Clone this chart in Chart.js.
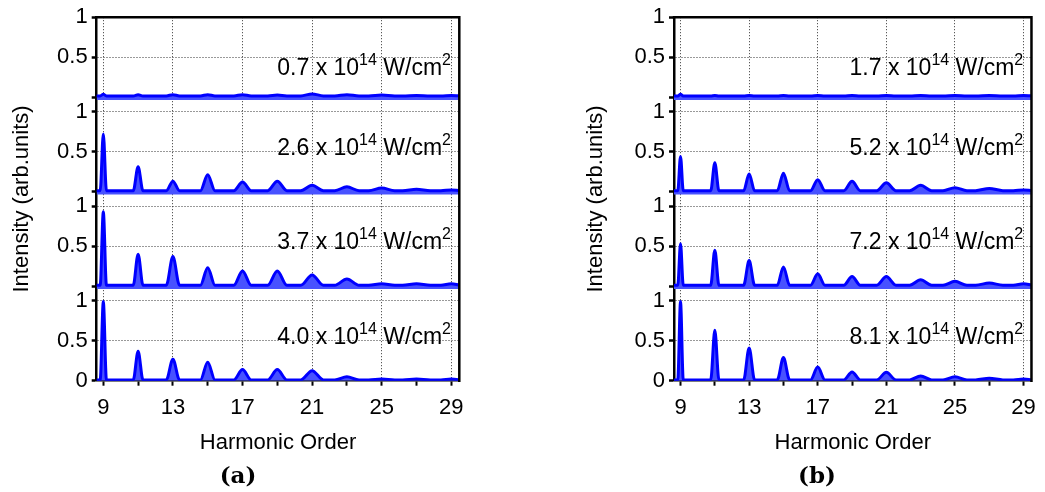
<!DOCTYPE html>
<html>
<head>
<meta charset="utf-8">
<title>Harmonic spectra</title>
<script src="https://cdn.jsdelivr.net/npm/chart.js@4.4.1/dist/chart.umd.min.js"></script>
<style>
  html, body { margin: 0; padding: 0; background: #fff; }
  body { width: 1045px; height: 492px; position: relative; overflow: hidden; }
  canvas { position: absolute; top: 0; }
  #specA { left: 0; }
  #specB { left: 574px; }
</style>
</head>
<body>
<canvas id="specA" width="522" height="492"></canvas>
<canvas id="specB" width="471" height="492"></canvas>
<script>
// --- data ---
// odd harmonic orders carrying a peak
const orders = [9, 11, 13, 15, 17, 19, 21, 23, 25, 27, 29];
const xTicks = [9, 11, 13, 15, 17, 19, 21, 23, 25, 27, 29];
const xLabelled = [9, 13, 17, 21, 25, 29];

// laser intensities (x 10^14 W/cm^2), top panel first
const intensitiesA = ['0.7', '2.6', '3.7', '4.0'];
const intensitiesB = ['1.7', '5.2', '7.2', '8.1'];

// peak heights (arb. units) at each order in `orders`
const peaksA07 = [0.035, 0.03, 0.03, 0.03, 0.03, 0.025, 0.04, 0.03, 0.025, 0.02, 0.02];
const peaksA26 = [0.72, 0.31, 0.13, 0.21, 0.12, 0.13, 0.08, 0.06, 0.045, 0.03, 0.02];
const peaksA37 = [0.93, 0.40, 0.37, 0.23, 0.19, 0.19, 0.14, 0.09, 0.03, 0.03, 0.03];
const peaksA40 = [0.99, 0.37, 0.27, 0.23, 0.14, 0.14, 0.125, 0.05, 0.02, 0.02, 0.02];

const peaksB17 = [0.035, 0.02, 0.02, 0.02, 0.02, 0.02, 0.02, 0.02, 0.02, 0.02, 0.02];
const peaksB52 = [0.44, 0.36, 0.22, 0.23, 0.15, 0.13, 0.11, 0.08, 0.05, 0.04, 0.02];
const peaksB72 = [0.53, 0.45, 0.32, 0.24, 0.155, 0.12, 0.12, 0.08, 0.06, 0.04, 0.03];
const peaksB81 = [0.99, 0.63, 0.41, 0.29, 0.17, 0.11, 0.105, 0.06, 0.05, 0.03, 0.02];

// half width of each peak at its foot (in harmonic orders)
const widthsA = [0.18, 0.28, 0.38, 0.42, 0.5, 0.55, 0.65, 0.7, 0.75, 0.8, 0.6];
const widthsB = [0.16, 0.24, 0.32, 0.36, 0.42, 0.48, 0.56, 0.64, 0.7, 0.8, 0.6];

// background level of each spectrum, top panel first
const baseA = [0.015, 0.012, 0.012, 0.01];
const baseB = [0.015, 0.012, 0.012, 0.01];

// --- layout of the four stacked panels on one value axis ---
const STEP = 1.1833;                       // distance between panel zeros
const offsets = [3 * STEP, 2 * STEP, STEP, 0];
const Y_MAX = 3 * STEP + 1;
const X_MIN = 8.62, X_MAX = 29.46;

const LINE = '#0000ff';
const FILL = 'rgb(72, 82, 255)';
const FONT = "'Liberation Sans', Arial, Helvetica, sans-serif";
const SIZE = 22;

// y ticks: 0 / 0.5 / 1 for every panel, only the bottom panel shows "0"
const yTickValues = [];
const yTickLabels = [];
offsets.slice().reverse().forEach((off, i) => {
    yTickValues.push(off, off + 0.5, off + 1);
    yTickLabels.push(i === 0 ? '0' : '', '0.5', '1');
});

// spectrum as a polyline: flat background with one bump per harmonic
const spectrum = (peaks, widths, base, offset) => {
    const pts = [{ x: 8.4, y: offset + base }];
    orders.forEach((h, i) => {
        const top = Math.max(peaks[i], base);
        pts.push({ x: h - widths[i], y: offset + base });
        pts.push({ x: h, y: offset + top });
        pts.push({ x: h + widths[i], y: offset + base });
    });
    pts.push({ x: 30, y: offset + base });
    return pts;
};

const buildDatasets = (series, widths, bases) => series.map((peaks, k) => ({
    data: spectrum(peaks, widths, bases[k], offsets[k]),
    borderColor: LINE,
    borderWidth: 3,
    backgroundColor: FILL,
    fill: { value: offsets[k] - 0.035 },
    pointRadius: 0,
    cubicInterpolationMode: 'monotone'
}));

// "2.6 x 10^14 W/cm^2" with raised exponents, right aligned at xr
const drawIntensity = (ctx, val, xr, yb) => {
    const parts = [
        { t: val + ' x 10', size: 23, rise: 0 },
        { t: '14', size: 16, rise: 10 },
        { t: ' W/cm', size: 23, rise: 0 },
        { t: '2', size: 16, rise: 10 }
    ];
    let total = 0;
    parts.forEach(p => {
        ctx.font = p.size + 'px ' + FONT;
        p.w = ctx.measureText(p.t).width;
        total += p.w;
    });
    let x = xr - total;
    ctx.textAlign = 'left';
    ctx.textBaseline = 'alphabetic';
    ctx.fillStyle = '#000';
    parts.forEach(p => {
        ctx.font = p.size + 'px ' + FONT;
        ctx.fillText(p.t, x, yb - p.rise);
        x += p.w;
    });
};

// top/right frame, intensity labels and the panel letter
const framePlugin = {
    id: 'frame',
    afterDraw(chart, args, opts) {
        const { ctx, chartArea: { left, right, top, bottom }, scales: { x, y } } = chart;
        ctx.save();
        ctx.strokeStyle = '#000';
        ctx.lineWidth = 2.5;
        ctx.beginPath();
        ctx.moveTo(left - 1.25, top);
        ctx.lineTo(right, top);
        ctx.lineTo(right, bottom + 1.25);
        ctx.stroke();

        const levels = [0.28, 0.46, 0.46, 0.46];
        opts.intensities.forEach((val, k) => {
            drawIntensity(ctx, val, x.getPixelForValue(28.98), y.getPixelForValue(offsets[k] + levels[k]));
        });

        ctx.font = "bold 23px 'DejaVu Serif', serif";
        ctx.textAlign = 'center';
        ctx.textBaseline = 'middle';
        ctx.fillStyle = '#000';
        ctx.fillText(opts.letter, opts.letterX, 477);
        ctx.restore();
    }
};

const makeChart = (id, datasets, cfg) => new Chart(document.getElementById(id), {
    type: 'line',
    data: { datasets },
    plugins: [framePlugin],
    options: {
        responsive: false,
        animation: false,
        events: [],
        layout: { padding: { left: 0, right: cfg.padRight, top: 16.7, bottom: 0 } },
        plugins: {
            legend: { display: false },
            tooltip: { enabled: false },
            frame: { intensities: cfg.intensities, letter: cfg.letter, letterX: cfg.letterX }
        },
        scales: {
            x: {
                type: 'linear',
                min: X_MIN,
                max: X_MAX,
                afterBuildTicks: s => { s.ticks = xTicks.map(v => ({ value: v })); },
                afterFit: s => { s.height = 111.3; },
                ticks: {
                    autoSkip: false,
                    maxRotation: 0,
                    padding: 9,
                    color: '#000',
                    font: { family: FONT, size: SIZE },
                    callback: v => (xLabelled.includes(v) ? String(v) : '')
                },
                grid: {
                    color: c => (c.tick && xLabelled.includes(c.tick.value) ? '#333' : 'rgba(0,0,0,0)'),
                    lineWidth: 1,
                    tickLength: 5,
                    tickWidth: 2,
                    tickColor: '#000'
                },
                border: { display: true, color: '#000', width: 2.5, dash: [1, 2] },
                title: {
                    display: true,
                    text: 'Harmonic Order',
                    color: '#000',
                    font: { family: FONT, size: SIZE },
                    padding: { top: 0, bottom: 36 }
                }
            },
            y: {
                type: 'linear',
                min: 0,
                max: Y_MAX,
                afterBuildTicks: s => { s.ticks = yTickValues.map(v => ({ value: v })); },
                afterFit: s => { s.width = cfg.axisWidth; },
                ticks: {
                    autoSkip: false,
                    padding: 4,
                    color: '#000',
                    font: { family: FONT, size: SIZE },
                    callback: (v, i) => yTickLabels[i]
                },
                grid: {
                    color: c => (c.tick && yTickLabels[c.index] !== '' && yTickLabels[c.index] !== '0' ? '#333' : 'rgba(0,0,0,0)'),
                    lineWidth: 1,
                    tickLength: 5,
                    tickWidth: 2.5,
                    tickColor: '#000'
                },
                border: { display: true, color: '#000', width: 2.5, dash: [1, 2] },
                title: {
                    display: true,
                    text: 'Intensity (arb.units)',
                    color: '#000',
                    font: { family: FONT, size: SIZE },
                    padding: { top: 9, bottom: 0 }
                }
            }
        }
    }
});

makeChart('specA', buildDatasets([peaksA07, peaksA26, peaksA37, peaksA40], widthsA, baseA), {
    axisWidth: 96.7, padRight: 62.7, intensities: intensitiesA, letter: '(a)', letterX: 238
});
makeChart('specB', buildDatasets([peaksB17, peaksB52, peaksB72, peaksB81], widthsB, baseB), {
    axisWidth: 100, padRight: 8.3, intensities: intensitiesB, letter: '(b)', letterX: 243
});
</script>
</body>
</html>
